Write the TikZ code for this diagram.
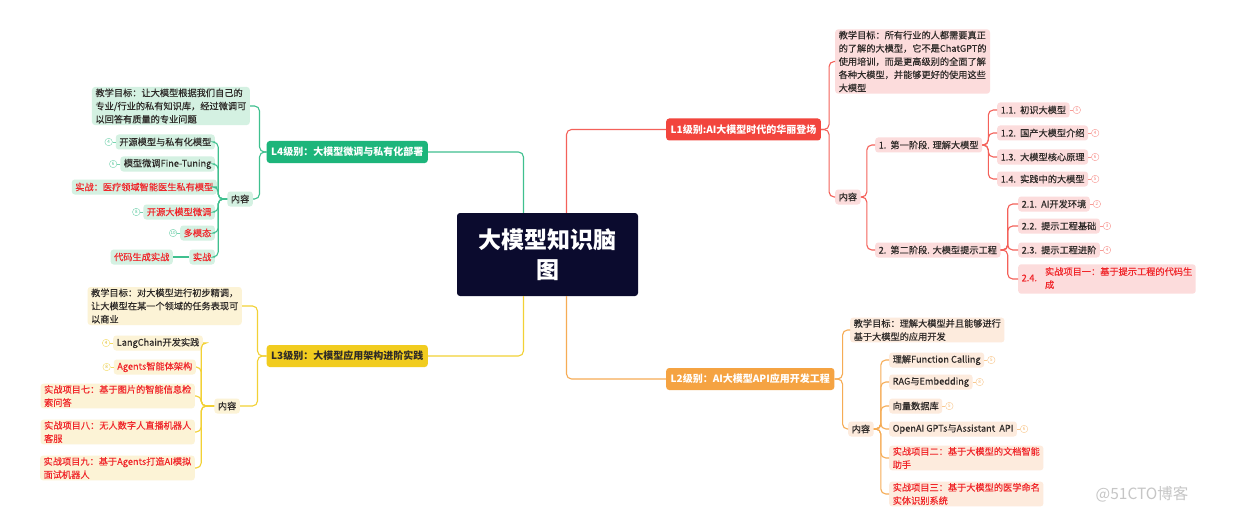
\documentclass[tikz,border=0pt]{standalone}
\usepackage{fontspec}
\setmainfont{Noto Sans CJK SC}
\newfontfamily\itemFont{Noto Sans CJK SC}[FakeBold=0.35]
\usetikzlibrary{positioning}
\definecolor{rootBlue}{HTML}{0B0B2E}
\definecolor{lOneRed}{HTML}{F2453D}
\definecolor{lOneLight}{HTML}{FCDCDC}
\definecolor{lTwoOrange}{HTML}{F5A342}
\definecolor{lTwoLight}{HTML}{FDEBDD}
\definecolor{lThreeYellow}{HTML}{F1CC1F}
\definecolor{lThreeLight}{HTML}{FCF3D6}
\definecolor{lFourGreen}{HTML}{1DB57B}
\definecolor{lFourLight}{HTML}{D4F1E2}
\definecolor{darkText}{HTML}{2E2A28}
\definecolor{hotRed}{HTML}{F0262A}
\tikzset{%
  % Specifications for style of nodes:
            base/.style = {rectangle, rounded corners=3pt, inner xsep=3.5pt,
                           inner ysep=1.5pt, minimum height=15pt, text=darkText,
                           align=left, font=\itemFont\fontsize{9.2}{13.2}\selectfont},
        rootNode/.style = {rectangle, rounded corners=3pt, fill=rootBlue,
                           text=white, minimum width=181pt, minimum height=83pt,
                           align=center, font=\fontsize{23}{30}\selectfont\bfseries},
           level/.style = {base, text=white, minimum height=22pt, inner xsep=4.5pt,
                           font=\fontsize{10}{12}\selectfont\bfseries},
         itemOne/.style = {base, fill=lOneLight},
         itemTwo/.style = {base, fill=lTwoLight},
       itemThree/.style = {base, fill=lThreeLight},
        itemFour/.style = {base, fill=lFourLight},
           badge/.style = {circle, draw, fill=white, inner sep=0pt, minimum size=7.5pt,
                           font=\fontsize{4.5}{5}\selectfont},
  % Specifications for style of connectors:
         oneLine/.style = {draw=lOneRed!85, line width=1.1pt, rounded corners=5pt},
         twoLine/.style = {draw=lTwoOrange!90, line width=1.1pt, rounded corners=5pt},
       threeLine/.style = {draw=lThreeYellow!90, line width=1.1pt, rounded corners=5pt},
        fourLine/.style = {draw=lFourGreen!85, line width=1.1pt, rounded corners=5pt},
}

\begin{document}
\begin{tikzpicture}[x=1pt, y=-1pt]
  \fill[white] (0,0) rectangle (1234,524);
  \useasboundingbox (0,0) rectangle (1234,524);
  % Center
  \node[rootNode] (root) at (547.5,254.5) {大模型知识脑\\图};

  % L1 branch
  \node[level, fill=lOneRed, anchor=west] (lvlOne) at (666,129.5) {L1级别:AI大模型时代的华丽登场};
  \node[itemOne, anchor=west] (goalOne) at (835,61.5) {教学目标：所有行业的人都需要真正\\的了解的大模型，它不是ChatGPT的\\使用培训，而是更高级别的全面了解\\各种大模型，并能够更好的使用这些\\大模型};
  \node[itemOne, anchor=west] (contentOne) at (835,197) {内容};
  \node[itemOne, anchor=west] (stageOne) at (875,145) {1.\ \ 第一阶段. 理解大模型};
  \node[itemOne, anchor=west] (s11) at (997,110) {1.1.\ \ 初识大模型};
  \node[itemOne, anchor=west] (s12) at (997,133) {1.2.\ \ 国产大模型介绍};
  \node[itemOne, anchor=west] (s13) at (997,157) {1.3.\ \ 大模型核心原理};
  \node[itemOne, anchor=west] (s14) at (997,179) {1.4.\ \ 实践中的大模型};
  \node[itemOne, anchor=west] (stageTwo) at (875,250) {2.\ \ 第二阶段. 大模型提示工程};
  \node[itemOne, anchor=west] (s21) at (1018,204) {2.1.\ \ AI开发环境};
  \node[itemOne, anchor=west] (s22) at (1018,226) {2.2.\ \ 提示工程基础};
  \node[itemOne, anchor=west] (s23) at (1018,250) {2.3.\ \ 提示工程进阶};
  \node[itemOne, anchor=west, text=hotRed] (s24) at (1018,279)
    {\begin{tabular}{@{}l@{\hspace{8pt}}l@{}}2.4. & \begin{tabular}{@{}l@{}}实战项目一：基于提示工程的代码生\\成\end{tabular}\end{tabular}};

  % L2 branch
  \node[level, fill=lTwoOrange, anchor=west] (lvlTwo) at (666,379) {L2级别：AI大模型API应用开发工程};
  \node[itemTwo, anchor=west] (goalTwo) at (850,330) {教学目标：理解大模型并且能够进行\\基于大模型的应用开发};
  \node[itemTwo, anchor=west] (contentTwo) at (848,429) {内容};
  \node[itemTwo, anchor=west] (t1) at (889,360) {理解Function Calling};
  \node[itemTwo, anchor=west] (t2) at (889,382) {RAG与Embedding};
  \node[itemTwo, anchor=west] (t3) at (889,406) {向量数据库};
  \node[itemTwo, anchor=west] (t4) at (889,429) {OpenAI GPTs与Assistant\ \ API};
  \node[itemTwo, anchor=west, text=hotRed] (t5) at (889,458) {实战项目二：基于大模型的文档智能\\助手};
  \node[itemTwo, anchor=west, text=hotRed] (t6) at (889,494) {实战项目三：基于大模型的医学命名\\实体识别系统};

  % L3 branch
  \node[level, fill=lThreeYellow, text=darkText, anchor=east] (lvlThree) at (428,356) {L3级别：大模型应用架构进阶实践};
  \node[itemThree, anchor=east] (goalThree) at (242,306) {教学目标：对大模型进行初步精调，\\让大模型在某一个领域的任务表现可\\以商业};
  \node[itemThree, anchor=east] (contentThree) at (240,406) {内容};
  \node[itemThree, anchor=east] (u1) at (203,343) {LangChain开发实践};
  \node[itemThree, anchor=east, text=hotRed] (u2) at (196,367) {Agents智能体架构};
  \node[itemThree, anchor=east, text=hotRed] (u3) at (195,396) {实战项目七：基于图片的智能信息检\\索问答};
  \node[itemThree, anchor=east, text=hotRed] (u4) at (195,432) {实战项目八：无人数字人直播机器人\\客服};
  \node[itemThree, anchor=east, text=hotRed] (u5) at (195,468) {实战项目九：基于Agents打造AI模拟\\面试机器人};

  % L4 branch
  \node[level, fill=lFourGreen, anchor=east] (lvlFour) at (428,152) {L4级别：大模型微调与私有化部署};
  \node[itemFour, anchor=east] (goalFour) at (250,106) {教学目标：让大模型根据我们自己的\\专业/行业的私有知识库，经过微调可\\以回答有质量的专业问题};
  \node[itemFour, anchor=east] (contentFour) at (253,199) {内容};
  \node[itemFour, anchor=east] (v1) at (215,142) {开源模型与私有化模型};
  \node[itemFour, anchor=east] (v2) at (215,164) {模型微调Fine-Tuning};
  \node[itemFour, anchor=east, text=hotRed] (v3) at (217,187) {实战：医疗领域智能医生私有模型};
  \node[itemFour, anchor=east, text=hotRed] (v4) at (215,212) {开源大模型微调};
  \node[itemFour, anchor=east, text=hotRed] (v5) at (215,233) {多模态};
  \node[itemFour, anchor=east, text=hotRed] (v6) at (215,257) {实战};
  \node[itemFour, anchor=east, text=hotRed] (v7) at (173,257) {代码生成实战};

  \node[text=gray!45, anchor=east, font=\fontsize{15.5}{17}\selectfont] (mark) at (1192,494) {@51CTO博客};

  % Lines from the center to the four levels
  \draw[oneLine] ([xshift=19pt]root.north) |- (lvlOne.west);
  \draw[twoLine] ([xshift=19pt]root.south) |- (lvlTwo.west);
  \draw[fourLine] (lvlFour.east) -| ([xshift=-24pt]root.north);
  \draw[threeLine] (lvlThree.east) -| ([xshift=-24pt]root.south);

  % L1 lines
  \draw[oneLine] (lvlOne.east) -- ++(8,0) |- (goalOne.west);
  \draw[oneLine] (lvlOne.east) -- ++(8,0) |- (contentOne.west);
  \draw[oneLine] (contentOne.east) -- ++(6,0) |- (stageOne.west);
  \draw[oneLine] (contentOne.east) -- ++(6,0) |- (stageTwo.west);
  \foreach \n in {s11,s12,s13,s14}
    \draw[oneLine] (stageOne.east) -- ++(6,0) |- (\n.west);
  \foreach \n in {s21,s22,s23,s24}
    \draw[oneLine] (stageTwo.east) -- ++(7,0) |- (\n.west);

  % L2 lines
  \draw[twoLine] (lvlTwo.east) -- ++(8,0) |- (goalTwo.west);
  \draw[twoLine] (lvlTwo.east) -- ++(8,0) |- (contentTwo.west);
  \foreach \n in {t1,t2,t3,t4,t5,t6}
    \draw[twoLine] (contentTwo.east) -- ++(7,0) |- (\n.west);

  % L3 lines
  \draw[threeLine] (lvlThree.west) -- ++(-9,0) |- (goalThree.east);
  \draw[threeLine] (lvlThree.west) -- ++(-9,0) |- (contentThree.east);
  \foreach \n in {u1,u2,u3,u4,u5}
    \draw[threeLine] (contentThree.west) -- ++(-13,0) |- (\n.east);

  % L4 lines
  \draw[fourLine] (lvlFour.west) -- ++(-7,0) |- (goalFour.east);
  \draw[fourLine] (lvlFour.west) -- ++(-7,0) |- (contentFour.east);
  \foreach \n in {v1,v2,v3,v4,v5,v6}
    \draw[fourLine] (contentFour.west) -- ++(-9,0) |- (\n.east);
  \draw[fourLine] (v6.west) -- (v7.east);

  % badges
  \foreach \n/\k in {s11/5,s12/4,s13/6,s14/5,s21/2,s22/3,s23/4} {
    \node[badge, draw=lOneRed!55, text=lOneRed!70, right=3pt of \n] (b\n) {\k};
    \draw[lOneRed!55, line width=0.6pt] (\n) -- (b\n);
  }
  \foreach \n/\k in {t1/5,t2/8,t3/5,t4/6} {
    \node[badge, draw=lTwoOrange!60, text=lTwoOrange!80, right=3pt of \n] (b\n) {\k};
    \draw[lTwoOrange!60, line width=0.6pt] (\n) -- (b\n);
  }
  \foreach \n/\k in {u1/4,u2/8} {
    \node[badge, draw=lThreeYellow!70, text=lThreeYellow!90!black, left=3pt of \n] (b\n) {\k};
    \draw[lThreeYellow!70, line width=0.6pt] (\n) -- (b\n);
  }
  \foreach \n/\k in {v1/4,v2/6,v4/8,v5/10} {
    \node[badge, draw=lFourGreen!60, text=lFourGreen!80, left=3pt of \n] (b\n) {\k};
    \draw[lFourGreen!60, line width=0.6pt] (\n) -- (b\n);
  }
\end{tikzpicture}
\end{document}
